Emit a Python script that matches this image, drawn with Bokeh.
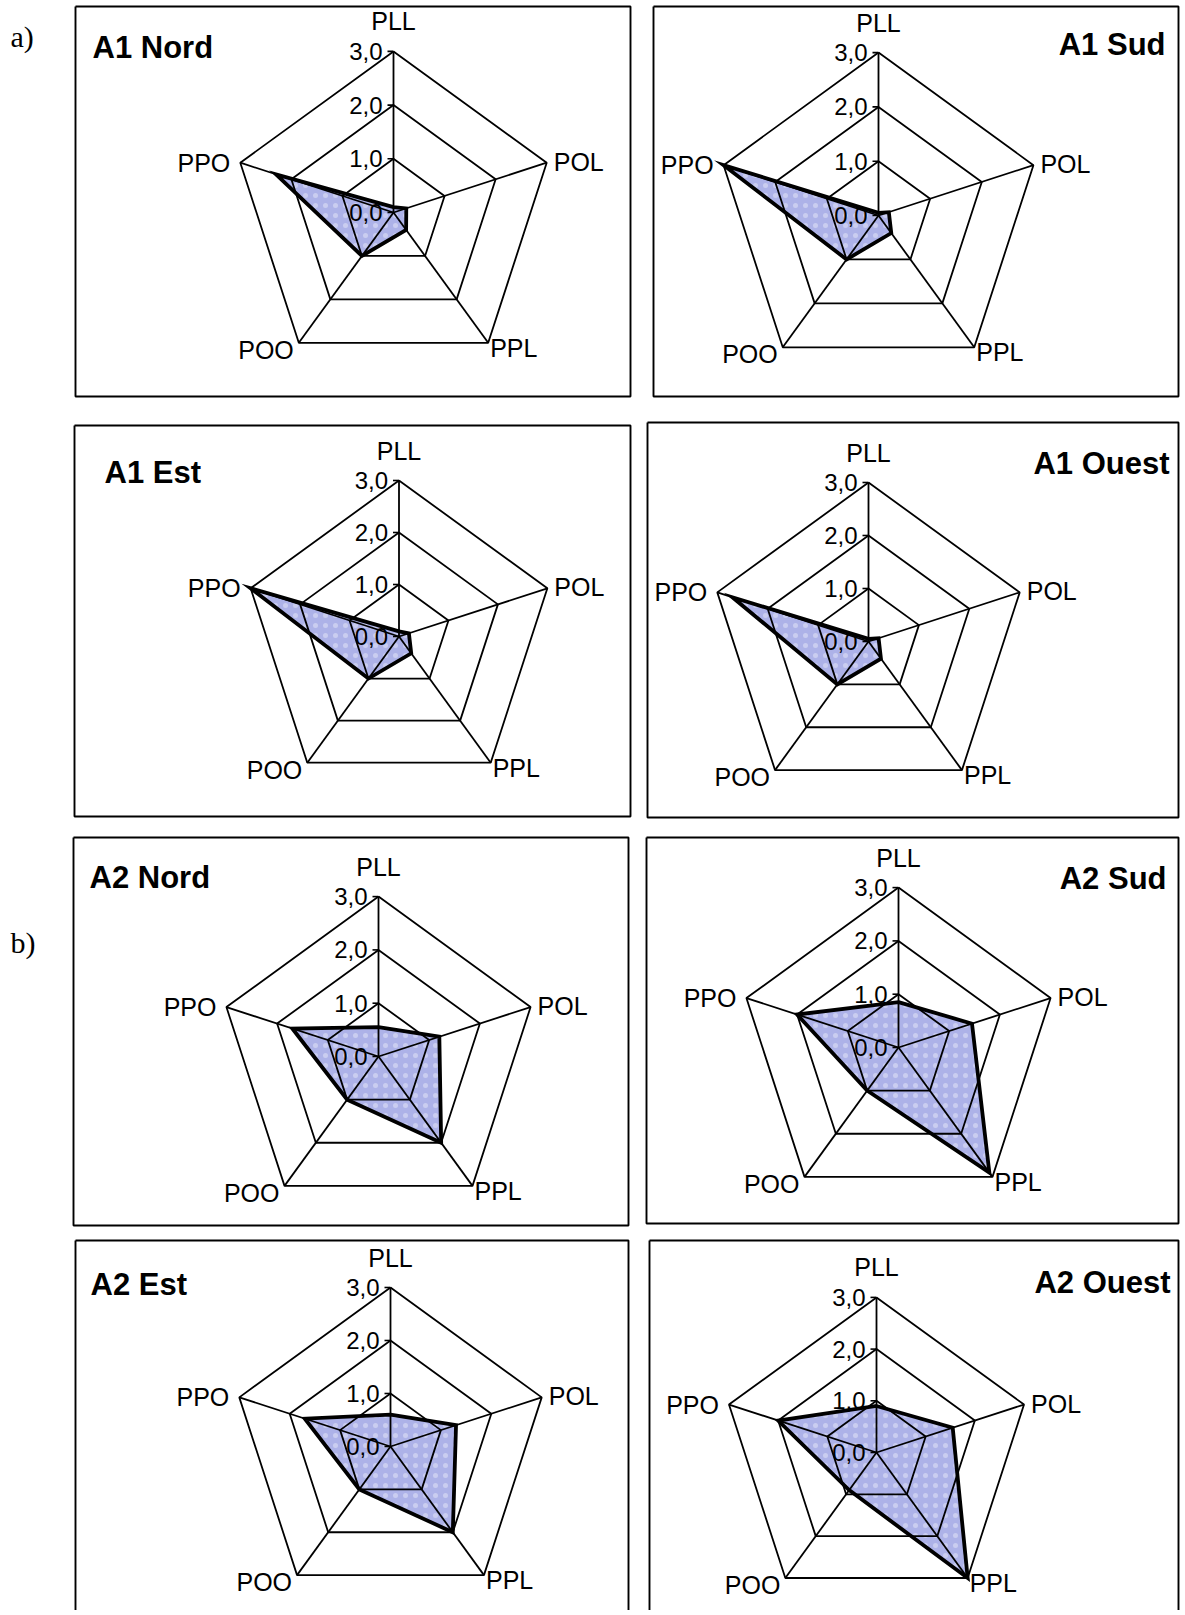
import numpy as np
from bokeh.plotting import figure
from bokeh.models import Range1d, ColumnDataSource
from bokeh.core.properties import value
from bokeh.embed import file_html
from bokeh.resources import INLINE

# ---------------- data ----------------
categories = ["PLL", "POL", "PPL", "POO", "PPO"]
tick_values = [0.0, 1.0, 2.0, 3.0]
tick_labels = ["0,0", "1,0", "2,0", "3,0"]
panel_names = ["A1 Nord", "A1 Sud", "A1 Est", "A1 Ouest",
               "A2 Nord", "A2 Sud", "A2 Est", "A2 Ouest"]
a1_nord = [0.1, 0.25, 0.4, 1.0, 2.3]
a1_sud = [0.05, 0.2, 0.4, 1.0, 3.0]
a1_est = [0.1, 0.2, 0.4, 1.0, 3.0]
a1_ouest = [0.05, 0.2, 0.4, 1.0, 2.7]
a2_nord = [0.55, 1.2, 2.0, 1.0, 1.7]
a2_sud = [0.85, 1.45, 2.9, 1.0, 2.0]
a2_est = [0.6, 1.3, 2.0, 1.0, 1.7]
a2_ouest = [0.9, 1.55, 3.0, 0.9, 2.0]
series = [a1_nord, a1_sud, a1_est, a1_ouest, a2_nord, a2_sud, a2_est, a2_ouest]
group_labels = ["a)", "b)"]

# ---------------- layout (page pixels) ----------------
layout = [
    dict(box=(75, 6, 630, 396), c=(393, 212), u=53.7, t=(92, 47, "left")),
    dict(box=(653, 6, 1178, 396), c=(878, 215), u=54.3, t=(1165, 44, "right")),
    dict(box=(74, 425, 630, 816), c=(398.5, 636), u=52.0, t=(104, 472, "left")),
    dict(box=(647, 422, 1178, 817), c=(868, 641), u=53.0, t=(1169, 463, "right")),
    dict(box=(73, 837, 628, 1225), c=(378, 1056), u=53.3, t=(89, 877, "left")),
    dict(box=(646, 837, 1178, 1223), c=(898, 1047), u=53.3, t=(1166, 878, "right")),
    dict(box=(75, 1240, 628, 1660), c=(390, 1446), u=53.0, t=(90, 1284, "left")),
    dict(box=(649, 1240, 1178, 1660), c=(876, 1452), u=51.7, t=(1170, 1282, "right")),
]
group_pos = [(10, 36), (10, 942)]

W, H = 1180, 1610
p = figure(width=W, height=H, x_range=Range1d(0, W), y_range=Range1d(H, 0),
           output_backend="svg", toolbar_location=None, min_border=0)
p.axis.visible = False
p.grid.visible = False
p.outline_line_color = None
p.background_fill_color = "white"

angles = np.deg2rad([90, 18, -54, -126, 162])
FONT = value("Liberation Sans")

box_x, box_y = [], []
ring_x, ring_y = [], []
spoke_x, spoke_y = [], []
tick_x, tick_y = [], []
poly_x, poly_y = [], []
tl = dict(x=[], y=[], text=[])
cat = {k: dict(x=[], y=[], text=[]) for k in ["top", "left", "right"]}
ttl = {"left": dict(x=[], y=[], text=[]), "right": dict(x=[], y=[], text=[])}

for name, vals, L in zip(panel_names, series, layout):
    l, t, r, b = L["box"]
    box_x.append([l, r, r, l, l]); box_y.append([t, t, b, b, t])
    cx, cy = L["c"]; u = L["u"]
    ca, sa = np.cos(angles), np.sin(angles)
    for rv in tick_values[1:]:
        xs = list(cx + rv * u * ca) + [cx + rv * u * ca[0]]
        ys = list(cy - rv * u * sa) + [cy - rv * u * sa[0]]
        ring_x.append(xs); ring_y.append(ys)
    rmax = tick_values[-1]
    for a_c, a_s in zip(ca, sa):
        spoke_x.append([cx, cx + rmax * u * a_c]); spoke_y.append([cy, cy - rmax * u * a_s])
    for tv, tx in zip(tick_values, tick_labels):
        tick_x.append([cx - 6, cx]); tick_y.append([cy - tv * u, cy - tv * u])
        tl["x"].append(cx - 11); tl["y"].append(cy - tv * u); tl["text"].append(tx)
    vx = cx + np.array(vals) * u * ca
    vy = cy - np.array(vals) * u * sa
    poly_x.append(list(vx)); poly_y.append(list(vy))
    ox = cx + rmax * u * ca; oy = cy - rmax * u * sa
    cat["top"]["x"].append(ox[0]); cat["top"]["y"].append(oy[0] - 30); cat["top"]["text"].append(categories[0])
    cat["left"]["x"].append(ox[1] + 7); cat["left"]["y"].append(oy[1] - 1); cat["left"]["text"].append(categories[1])
    cat["left"]["x"].append(ox[2] + 2); cat["left"]["y"].append(oy[2] + 5); cat["left"]["text"].append(categories[2])
    cat["right"]["x"].append(ox[3] - 5); cat["right"]["y"].append(oy[3] + 7); cat["right"]["text"].append(categories[3])
    cat["right"]["x"].append(ox[4] - 10); cat["right"]["y"].append(oy[4]); cat["right"]["text"].append(categories[4])
    tx_, ty_, al = L["t"]
    ttl[al]["x"].append(tx_); ttl[al]["y"].append(ty_); ttl[al]["text"].append(name)

# filled data areas (under the grid)
p.patches(poly_x, poly_y, fill_color="#adb2e8", line_color=None,
          hatch_pattern="dot", hatch_color="white", hatch_alpha=0.35,
          hatch_scale=10, hatch_weight=1.2)
# grid, spokes, ticks, boxes
p.multi_line(ring_x, ring_y, line_color="black", line_width=1.8)
p.multi_line(spoke_x, spoke_y, line_color="black", line_width=1.8)
p.multi_line(tick_x, tick_y, line_color="black", line_width=1.6)
p.multi_line(box_x, box_y, line_color="black", line_width=1.9)
# data outlines on top
p.patches(poly_x, poly_y, fill_color=None, line_color="black",
          line_width=3.8, line_join="miter")

p.text(x="x", y="y", text="text", source=ColumnDataSource(tl), text_font=FONT,
       text_font_size="24px", text_align="right", text_baseline="middle", text_color="black")
p.text(x="x", y="y", text="text", source=ColumnDataSource(cat["top"]), text_font=FONT,
       text_font_size="25px", text_align="center", text_baseline="alphabetic", text_color="black")
p.text(x="x", y="y", text="text", source=ColumnDataSource(cat["left"]), text_font=FONT,
       text_font_size="25px", text_align="left", text_baseline="alphabetic", text_color="black")
p.text(x="x", y="y", text="text", source=ColumnDataSource(cat["right"]), text_font=FONT,
       text_font_size="25px", text_align="right", text_baseline="alphabetic", text_color="black")
for al in ["left", "right"]:
    p.text(x="x", y="y", text="text", source=ColumnDataSource(ttl[al]), text_font=FONT,
           text_font_size="31px", text_font_style="bold", text_align=al,
           text_baseline="middle", text_color="black")

p.text(x=[g[0] for g in group_pos], y=[g[1] for g in group_pos], text=group_labels,
       text_font=value("Liberation Serif"), text_font_size="30px", text_align="left",
       text_baseline="middle", text_color="black")

open("out.html", "w").write(file_html(p, INLINE))
